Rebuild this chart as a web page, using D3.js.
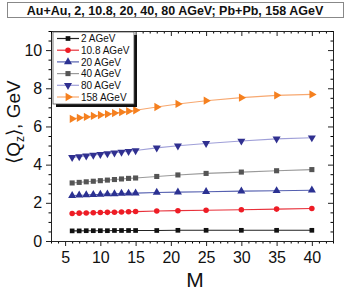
<!DOCTYPE html>
<html lang="en">
<head>
<meta charset="utf-8">
<title>Qz vs M</title>
<script src="https://d3js.org/d3.v7.min.js"></script>
<style>
  body { margin: 0; background: #fff; }
  text { font-family: "Liberation Sans", Arial, sans-serif; fill: #111; }
</style>
</head>
<body>
<script>
// data
const M = [6, 7, 8, 9, 10, 11, 12, 13, 14, 15, 18, 21, 25, 30, 35, 40];
const q2 = [0.53, 0.53, 0.54, 0.54, 0.54, 0.54, 0.55, 0.55, 0.55, 0.55, 0.55, 0.56, 0.56, 0.56, 0.56, 0.56];
const q108 = [1.44, 1.46, 1.47, 1.48, 1.49, 1.50, 1.51, 1.52, 1.53, 1.54, 1.57, 1.59, 1.61, 1.64, 1.67, 1.70];
const q20 = [2.38, 2.40, 2.41, 2.43, 2.44, 2.46, 2.47, 2.49, 2.50, 2.51, 2.54, 2.56, 2.58, 2.61, 2.63, 2.66];
const q40 = [3.04, 3.07, 3.10, 3.13, 3.16, 3.19, 3.22, 3.25, 3.28, 3.30, 3.38, 3.46, 3.54, 3.61, 3.68, 3.74];
const q80 = [4.38, 4.42, 4.46, 4.50, 4.54, 4.58, 4.62, 4.66, 4.70, 4.74, 4.88, 4.99, 5.11, 5.24, 5.35, 5.41];
const q158 = [6.40, 6.45, 6.50, 6.55, 6.60, 6.65, 6.70, 6.75, 6.80, 6.85, 7.02, 7.18, 7.35, 7.51, 7.63, 7.68];
const labels = ["2 AGeV", "10.8 AGeV", "20 AGeV", "40 AGeV", "80 AGeV", "158 AGeV"];
const xTicks = [5, 10, 15, 20, 25, 30, 35, 40];
const yTicks = [0, 2, 4, 6, 8, 10];

// styles per series
const series = [
  {vals: q2,   line: "#222",    fill: "#111",    sym: d3.symbolSquare,   size: 22, rot: 0},
  {vals: q108, line: "#e8303a", fill: "#ee1c25", sym: d3.symbolCircle,   size: 24, rot: 0},
  {vals: q20,  line: "#5560b0", fill: "#2b3192", sym: d3.symbolTriangle, size: 28, rot: 0},
  {vals: q40,  line: "#9a9a9a", fill: "#555",    sym: d3.symbolSquare,   size: 26, rot: 0},
  {vals: q80,  line: "#9f9fd8", fill: "#303090", sym: d3.symbolTriangle, size: 28, rot: 180},
  {vals: q158, line: "#f7a870", fill: "#f5801f", sym: d3.symbolTriangle, size: 30, rot: 90}
];

const width = 360, height = 290;
const svg = d3.select("body").append("svg")
  .attr("width", width).attr("height", height);

const pLeft = 51, pRight = 333, pTop = 31, pBottom = 241;
const x = d3.scaleLinear().domain([3, 43]).range([pLeft, pRight]);
const y = d3.scaleLinear().domain([0, 11]).range([pBottom, pTop]);

// title box
svg.append("rect").attr("x", 7.5).attr("y", 2.5).attr("width", 336).attr("height", 15)
  .attr("fill", "#fff").attr("stroke", "#888").attr("stroke-width", 1);
svg.append("text").attr("x", 175).attr("y", 14.5).attr("text-anchor", "middle")
  .style("font-size", "12.5px").style("font-weight", "bold")
  .text("Au+Au, 2, 10.8, 20, 40, 80 AGeV; Pb+Pb, 158 AGeV");

// axes: bottom/left ticks outward, top/right inward
const minorX = d3.range(3, 44, 1).filter(v => v % 5 !== 0);
const minorY = d3.range(0, 11.01, 0.5).filter(v => v % 2 !== 0);

function addAxis(axisFn, scale, major, minor, tr, labelsOn, inward) {
  const dir = inward ? -1 : 1;
  svg.append("g").attr("transform", tr)
    .call(axisFn(scale).tickValues(minor).tickSize(2.5 * dir).tickFormat(""))
    .call(g => g.select(".domain").remove());
  const g = svg.append("g").attr("transform", tr)
    .call(axisFn(scale).tickValues(major).tickSize(5 * dir).tickSizeOuter(0)
      .tickFormat(labelsOn ? d3.format("d") : ""));
  g.selectAll("text").style("font-size", "16px")
    .style("font-family", "Liberation Sans, Arial, sans-serif").attr("fill", "#111");
  g.selectAll("line, path").attr("stroke", "#222");
  return g;
}
const gx = addAxis(d3.axisBottom, x, xTicks, minorX, `translate(0,${pBottom})`, true, false);
gx.selectAll("text").attr("dy", "0.85em");
const gy = addAxis(d3.axisLeft, y, yTicks, minorY, `translate(${pLeft},0)`, true, false);
gy.selectAll("text").attr("dx", "-0.05em");
addAxis(d3.axisTop, x, xTicks, minorX, `translate(0,${pTop})`, false, true);
addAxis(d3.axisRight, y, yTicks, minorY, `translate(${pRight},0)`, false, true);

// axis titles
svg.append("text").attr("x", 195).attr("y", 287).attr("text-anchor", "middle")
  .style("font-size", "21px").text("M");
const yl = svg.append("text").attr("transform", "translate(20,122) rotate(-90)")
  .attr("text-anchor", "middle").style("font-size", "19px");
yl.append("tspan").text("\u27E8Q");
yl.append("tspan").attr("dy", 4).style("font-size", "12px").text("z");
yl.append("tspan").attr("dy", -4).text("\u27E9, GeV");

// series
const line = d3.line().x((d, i) => x(M[i])).y(d => y(d));
series.forEach(s => {
  svg.append("path").datum(s.vals).attr("d", line)
    .attr("fill", "none").attr("stroke", s.line).attr("stroke-width", 1.1);
  svg.append("g").selectAll("path").data(s.vals).join("path")
    .attr("d", d3.symbol(s.sym, s.size))
    .attr("transform", (d, i) => `translate(${x(M[i])},${y(d)}) rotate(${s.rot})`)
    .attr("fill", s.fill);
});

// legend with drop shadow
const lg = svg.append("g");
lg.append("rect").attr("x", 56).attr("y", 35).attr("width", 81).attr("height", 72).attr("fill", "#111");
lg.append("rect").attr("x", 53).attr("y", 32).attr("width", 81).attr("height", 72)
  .attr("fill", "#fff").attr("stroke", "#555").attr("stroke-width", 0.8);
labels.forEach((lab, i) => {
  const s = series[i];
  const ry = 38.5 + i * 11.7;
  lg.append("line").attr("x1", 57).attr("x2", 79).attr("y1", ry).attr("y2", ry)
    .attr("stroke", s.line).attr("stroke-width", 1.2);
  lg.append("path").attr("d", d3.symbol(s.sym, s.size)())
    .attr("transform", `translate(68,${ry}) rotate(${s.rot})`).attr("fill", s.fill);
  lg.append("text").attr("x", 81).attr("y", ry + 3.6).style("font-size", "10px").text(lab);
});
</script>
</body>
</html>
